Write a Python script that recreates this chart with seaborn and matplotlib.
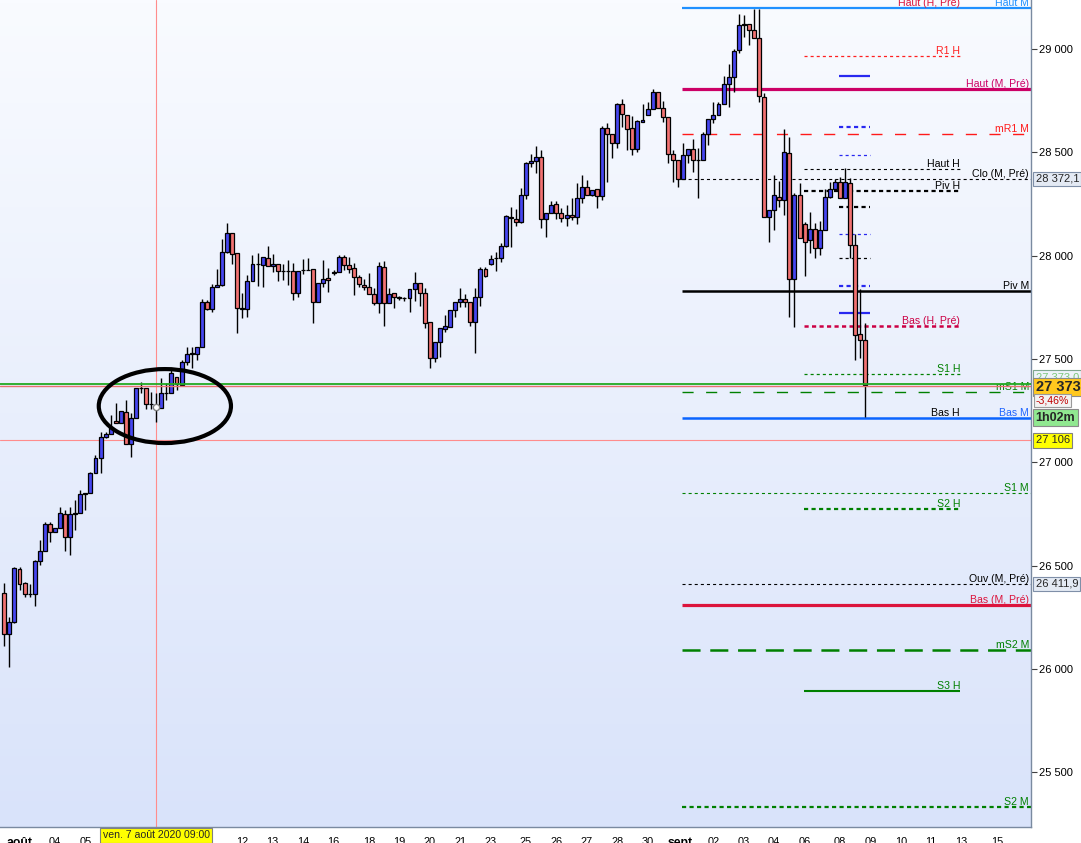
import numpy as np
import matplotlib
matplotlib.use("Agg")
import matplotlib.pyplot as plt
import matplotlib.transforms as mtransforms
from matplotlib.patches import Ellipse
from matplotlib.colors import LinearSegmentedColormap
import seaborn as sns

# ---------------- data (4h candles, Dow Jones CFD, Aug-Sep 2020) ----------------
opens = [26366, 26167, 26229, 26482, 26414, 26361, 26361, 26522, 26572, 26700,
         26661, 26684, 26748, 26637, 26750, 26753, 26845, 26850, 26947, 27019,
         27121, 27135, 27200, 27189, 27245, 27087, 27213, 27358, 27358, 27280,
         27268, 27264, 27334, 27334, 27411, 27374, 27483, 27522, 27522, 27559,
         27774, 27740, 27850, 27858, 28019, 28108, 28011, 27745, 27740, 27879,
         27958, 27954, 27987, 27950, 27958, 27925, 27925, 27927, 27817, 27930,
         27930, 27934, 27774, 27866, 27893, 27917, 27919, 27992, 27953, 27938,
         27898, 27856, 27850, 27812, 27769, 27945, 27769, 27817, 27798, 27796,
         27793, 27837, 27866, 27817, 27677, 27503, 27583, 27643, 27656, 27737,
         27774, 27788, 27774, 27680, 27798, 27934, 27958, 27987, 27987, 28047,
         28189, 28176, 28161, 28294, 28447, 28458, 28476, 28176, 28205, 28248,
         28205, 28184, 28195, 28189, 28277, 28334, 28294, 28321, 28289, 28616,
         28589, 28543, 28734, 28681, 28616, 28515, 28648, 28681, 28708, 28790,
         28713, 28669, 28492, 28463, 28369, 28487, 28515, 28461, 28461, 28587,
         28660, 28681, 28732, 28829, 28866, 28995, 29116, 29119, 29092, 29052,
         28769, 28185, 28221, 28285, 28269, 28495, 27885, 28293, 28153, 28076,
         28127, 28035, 28124, 28285, 28321, 28355, 28277, 28350, 28051, 27619,
         27592]
highs = [26414, 26253, 26492, 26492, 26422, 26411, 26527, 26624, 26710, 26710,
         26684, 26785, 26769, 26785, 26818, 26866, 26850, 26955, 27035, 27148,
         27148, 27229, 27285, 27250, 27301, 27237, 27358, 27390, 27358, 27342,
         27334, 27406, 27382, 27447, 27411, 27495, 27559, 27559, 27559, 27788,
         27785, 27861, 27933, 28079, 28156, 28108, 28011, 27821, 27906, 28003,
         28011, 27992, 28046, 28008, 27958, 27959, 27979, 27962, 27927, 27982,
         27987, 27934, 27866, 27979, 27938, 27930, 28003, 28003, 27992, 27962,
         27906, 27885, 27914, 27842, 27971, 27974, 27842, 27817, 27804, 27801,
         27837, 27922, 27866, 27842, 27677, 27580, 27648, 27712, 27737, 27774,
         27842, 27814, 27774, 27842, 27947, 27944, 28003, 28019, 28060, 28197,
         28237, 28224, 28326, 28455, 28492, 28531, 28511, 28205, 28266, 28264,
         28229, 28245, 28277, 28350, 28390, 28366, 28318, 28321, 28627, 28640,
         28589, 28737, 28758, 28681, 28676, 28656, 28734, 28745, 28805, 28790,
         28750, 28669, 28511, 28463, 28543, 28515, 28563, 28519, 28600, 28660,
         28742, 28742, 28869, 28927, 28998, 29169, 29164, 29119, 29193, 29193,
         28785, 28221, 28390, 28363, 28611, 28576, 28305, 28353, 28164, 28211,
         28160, 28168, 28321, 28358, 28371, 28382, 28422, 28374, 28103, 27837,
         27676]
lows = [26113, 26011, 26221, 26382, 26350, 26350, 26306, 26503, 26572, 26616,
        26661, 26684, 26572, 26551, 26672, 26753, 26769, 26850, 26947, 26950,
        27116, 27135, 27189, 27189, 27087, 27027, 27213, 27334, 27256, 27256,
        27197, 27264, 27301, 27334, 27350, 27374, 27471, 27454, 27495, 27559,
        27737, 27729, 27850, 27853, 28011, 27958, 27624, 27696, 27704, 27879,
        27853, 27846, 27950, 27922, 27879, 27882, 27858, 27785, 27798, 27911,
        27930, 27675, 27774, 27850, 27825, 27906, 27919, 27930, 27914, 27809,
        27846, 27833, 27812, 27761, 27721, 27659, 27769, 27745, 27785, 27782,
        27729, 27782, 27756, 27648, 27458, 27487, 27508, 27632, 27656, 27701,
        27753, 27753, 27659, 27527, 27758, 27898, 27955, 27927, 27971, 28044,
        28040, 28145, 28156, 28273, 28431, 28398, 28135, 28092, 28205, 28176,
        28165, 28145, 28173, 28152, 28256, 28294, 28290, 28229, 28269, 28358,
        28471, 28519, 28624, 28511, 28487, 28503, 28648, 28681, 28708, 28713,
        28648, 28447, 28358, 28334, 28369, 28450, 28406, 28281, 28461, 28535,
        28640, 28681, 28732, 28721, 28793, 28982, 29060, 29019, 29052, 28745,
        28185, 28068, 28124, 28237, 28197, 27705, 27656, 28084, 27901, 28011,
        27987, 28003, 28124, 28277, 28321, 28277, 28277, 27987, 27495, 27503,
        27221]
closes = [26167, 26229, 26487, 26411, 26361, 26361, 26522, 26572, 26700, 26661,
          26684, 26753, 26637, 26748, 26753, 26845, 26850, 26947, 27019, 27121,
          27135, 27172, 27189, 27250, 27087, 27213, 27358, 27358, 27280, 27280,
          27268, 27334, 27334, 27430, 27379, 27484, 27522, 27527, 27559, 27777,
          27740, 27850, 27858, 28019, 28108, 28008, 27745, 27740, 27879, 27958,
          27958, 27992, 27950, 27958, 27925, 27925, 27927, 27817, 27927, 27930,
          27932, 27774, 27866, 27888, 27880, 27919, 27992, 27953, 27934, 27898,
          27861, 27846, 27812, 27769, 27950, 27769, 27812, 27798, 27796, 27793,
          27837, 27866, 27817, 27672, 27503, 27580, 27648, 27659, 27737, 27774,
          27788, 27774, 27680, 27798, 27934, 27903, 27982, 27987, 28047, 28192,
          28181, 28161, 28294, 28447, 28458, 28476, 28176, 28205, 28245, 28205,
          28184, 28197, 28189, 28277, 28334, 28294, 28318, 28289, 28616, 28589,
          28543, 28734, 28685, 28613, 28515, 28652, 28656, 28708, 28790, 28713,
          28669, 28492, 28463, 28369, 28487, 28515, 28463, 28463, 28587, 28660,
          28681, 28732, 28829, 28866, 28992, 29116, 29119, 29092, 29052, 28774,
          28185, 28221, 28293, 28269, 28500, 27885, 28293, 28084, 28068, 28127,
          28035, 28124, 28282, 28321, 28355, 28277, 28355, 28051, 27616, 27592,
          27373]

day_labels = ["août", "04", "05", "12", "13", "14", "16", "18", "19", "20", "21",
              "23", "25", "26", "27", "28", "30", "sept", "02", "03", "04", "06",
              "08", "09", "10", "11", "13", "15"]
day_index = [3, 10, 16, 47, 53, 59, 65, 72, 78, 84, 90, 96, 103, 109, 115, 121,
             127, 133.5, 140, 146, 152, 158, 165, 171, 177, 183, 189, 196]

monthly_names = ["Haut M", "Haut (M, Pré)", "mR1 M", "Clo (M, Pré)", "Piv M",
                 "mS1 M", "Bas M", "S1 M", "Ouv (M, Pré)", "Bas (M, Pré)",
                 "mS2 M", "S2 M"]
monthly_values = [29199, 28806, 28587, 28372.1, 27829, 27339, 27214, 26850,
                  26411.9, 26310, 26092, 25333]
weekly_names = ["Haut (H, Pré)", "R1 H", "Haut H", "Piv H", "Bas (H, Pré)",
                "S1 H", "Bas H", "S2 H", "S3 H"]
weekly_values = [29199, 28965, 28421, 28313, 27660, 27426, 27214, 26774, 25895]
daily_values = [28871, 28623, 28486, 28235, 28103, 27987, 27853, 27722]

last_price = 27373
bid_price = 27378
ask_price = 27368
change_pct = "-3,46%"
countdown = "1h02m"
cross_index = 30
cross_price = 27106
cross_point = 27268
cross_label = "ven. 7 août 2020 09:00"
circle_center = (31.7, 27272)
yticks = [25500, 26000, 26500, 27000, 27500, 28000, 28500, 29000]

# ---------------- styles ----------------
THIN = (0, (2.2, 2.2))
THICK = (0, (3.0, 2.4))
LONG = (0, (8, 9))
LONG2 = (0, (13, 7))
monthly_styles = [
    dict(color="#1E90FF", lw=1.6, ls="-", tc="#1E90FF"),
    dict(color="#CC0066", lw=2.3, ls="-", tc="#CC0066"),
    dict(color="#FF1A1A", lw=1.0, ls=LONG, tc="#FF1A1A"),
    dict(color="black", lw=0.8, ls=THIN, tc="black"),
    dict(color="black", lw=1.8, ls="-", tc="black"),
    dict(color="#008000", lw=1.0, ls=LONG, tc="#008000"),
    dict(color="#0A64FF", lw=1.8, ls="-", tc="#1E64FF"),
    dict(color="#008000", lw=0.8, ls=THIN, tc="#008000"),
    dict(color="black", lw=0.8, ls=THIN, tc="black"),
    dict(color="#DC143C", lw=2.3, ls="-", tc="#DC143C"),
    dict(color="#008000", lw=1.8, ls=LONG2, tc="#008000"),
    dict(color="#008000", lw=1.6, ls=THICK, tc="#008000"),
]
weekly_styles = [
    dict(color=None, tc="#DC143C"),
    dict(color="#FF2020", lw=0.9, ls=THIN, tc="#FF2020"),
    dict(color="black", lw=0.8, ls=THIN, tc="black"),
    dict(color="black", lw=1.6, ls=THICK, tc="black"),
    dict(color="#CC0044", lw=1.8, ls=THICK, tc="#CC0044"),
    dict(color="#008000", lw=0.9, ls=THIN, tc="#008000"),
    dict(color=None, tc="black"),
    dict(color="#008000", lw=1.6, ls=THICK, tc="#008000"),
    dict(color="#008000", lw=1.5, ls="-", tc="#008000"),
]
daily_styles = [
    dict(color="#2828F0", lw=1.6, ls="-"),
    dict(color="#2828F0", lw=1.6, ls=THICK),
    dict(color="#2828F0", lw=0.9, ls=THIN),
    dict(color="black", lw=1.6, ls=THICK),
    dict(color="#2828F0", lw=0.9, ls=THIN),
    dict(color="black", lw=0.9, ls=THIN),
    dict(color="#2828F0", lw=1.6, ls=THICK),
    dict(color="#2828F0", lw=1.6, ls="-"),
]
MONTH_START, MONTH_END = 133.8, 202.7
WEEK_START, WEEK_END = 157.9, 188.7
DAY_START, DAY_END = 164.8, 170.9

sns.set_style("white")
plt.rcParams["font.family"] = ["Liberation Sans", "DejaVu Sans"]
plt.rcParams["lines.scale_dashes"] = False

W, H = 1081, 843
fig = plt.figure(figsize=(W / 100, H / 100), dpi=100)
fig.patch.set_facecolor("white")
ax = fig.add_axes([0, (H - 827) / H, 1031 / W, 827 / H])

# background gradient
grad = np.linspace(0, 1, 256).reshape(-1, 1)
cmap = LinearSegmentedColormap.from_list("bg", ["#F9FBFF", "#D9E3FA"])
ax.imshow(grad, extent=[0, 1, 0, 1], transform=ax.transAxes, cmap=cmap,
          aspect="auto", zorder=0)

# candles
o = np.array(opens, float); hh = np.array(highs, float)
ll = np.array(lows, float); c = np.array(closes, float)
idx = np.arange(len(o))
up = c >= o
ax.vlines(idx, ll, hh, color="black", lw=1.0, zorder=3)
ax.bar(idx[up], (c - o)[up], bottom=o[up], width=0.78, color="#4646F0",
       edgecolor="black", linewidth=0.9, zorder=4)
ax.bar(idx[~up], (o - c)[~up], bottom=c[~up], width=0.78, color="#F27272",
       edgecolor="black", linewidth=0.9, zorder=4)

# level lines
fs_lvl = 7.6
for name, v, st in zip(monthly_names, monthly_values, monthly_styles):
    ax.hlines(v, MONTH_START, MONTH_END, colors=st["color"], linewidth=st["lw"],
              linestyles=[st["ls"]], zorder=2)
    ax.text(202.3, v, name, color=st["tc"], fontsize=fs_lvl, ha="right",
            va="bottom", zorder=5)
for name, v, st in zip(weekly_names, weekly_values, weekly_styles):
    if st["color"] is not None:
        ax.hlines(v, WEEK_START, WEEK_END, colors=st["color"], linewidth=st["lw"],
                  linestyles=[st["ls"]], zorder=2)
    ax.text(WEEK_END, v, name, color=st["tc"], fontsize=fs_lvl, ha="right",
            va="bottom", zorder=5)
for v, st in zip(daily_values, daily_styles):
    ax.hlines(v, DAY_START, DAY_END, colors=st["color"], linewidth=st["lw"],
              linestyles=[st["ls"]], zorder=2)

# price lines and crosshair
ax.axhline(bid_price, color="#22AA22", lw=1.3, zorder=6)
ax.axhline(ask_price, color="#E87070", lw=1.0, zorder=6)
ax.axhline(cross_price, color="#FF8C8C", lw=0.8, zorder=1.5)
ax.axvline(cross_index, color="#FF8C8C", lw=0.8, zorder=1.5)

# annotation ellipse + crosshair point
ax.add_patch(Ellipse(circle_center, width=26.1, height=358, fill=False,
                     edgecolor="black", lw=3.0, zorder=8))
ax.plot([cross_index], [cross_point], marker="o", ms=4.5, mfc="white",
        mec="#808080", zorder=9)

ax.set_xlim(-0.85, 202.7)
ax.set_ylim(25235, 29237)

# axes styling
for s in ["top", "left"]:
    ax.spines[s].set_visible(False)
for s in ["right", "bottom"]:
    ax.spines[s].set_visible(True)
    ax.spines[s].set_color("#7A8AA0")
    ax.spines[s].set_linewidth(1.0)
ax.yaxis.tick_right()
ax.set_yticks(yticks)
ax.set_yticklabels([f"{v:,}".replace(",", " ") for v in yticks])
ax.tick_params(axis="y", direction="out", length=4, width=0.8, pad=2,
               labelsize=8, color="#404040", labelcolor="black")
ax.set_xticks(day_index)
ax.set_xticklabels(day_labels)
ax.tick_params(axis="x", direction="out", length=4, width=0.8, pad=3.5,
               labelsize=7.9, color="#606060", labelcolor="black")
for lab in ax.get_xticklabels():
    if lab.get_text() in ("août", "sept"):
        lab.set_fontweight("bold")
        lab.set_fontsize(8.8)
ax.grid(False)

# right-axis value boxes
ty = mtransforms.blended_transform_factory(ax.transAxes, ax.transData)
xb = 1.0045
ax.text(xb, 28372.1, "28 372,1", transform=ty, fontsize=8, ha="left", va="center",
        bbox=dict(boxstyle="square,pad=0.2", fc="#E4EAF4", ec="#7F8FA8", lw=0.8),
        clip_on=False, zorder=10)
ax.text(xb, 27412, "27 373,0", transform=ty, fontsize=8, ha="left", va="center",
        color="#7CC87C",
        bbox=dict(boxstyle="square,pad=0.2", fc="#EEF3FA", ec="#7FA88F", lw=0.8),
        clip_on=False, zorder=10)
ax.text(xb, 27365, f"{last_price:,}".replace(",", " "), transform=ty,
        fontsize=10.5, fontweight="bold", ha="left", va="center",
        bbox=dict(boxstyle="square,pad=0.15", fc="#FFC81E", ec="#8A8A8A", lw=0.8),
        clip_on=False, zorder=11)
ax.text(xb, 27297, change_pct, transform=ty, fontsize=7.6, color="#C00000",
        ha="left", va="center",
        bbox=dict(boxstyle="square,pad=0.15", fc="#F2F2F2", ec="#9A9A9A", lw=0.8),
        clip_on=False, zorder=11)
ax.text(xb, 27216, countdown, transform=ty, fontsize=9, fontweight="bold",
        ha="left", va="center",
        bbox=dict(boxstyle="square,pad=0.18", fc="#90E890", ec="#8A8A8A", lw=0.8),
        clip_on=False, zorder=11)
ax.text(xb, cross_price, f"{cross_price:,}".replace(",", " "), transform=ty,
        fontsize=8, ha="left", va="center",
        bbox=dict(boxstyle="square,pad=0.2", fc="#FFFF00", ec="#808080", lw=0.8),
        clip_on=False, zorder=11)
ax.text(xb, 26411.9, "26 411,9", transform=ty, fontsize=8, ha="left", va="center",
        bbox=dict(boxstyle="square,pad=0.2", fc="#E4EAF4", ec="#7F8FA8", lw=0.8),
        clip_on=False, zorder=10)

# date tooltip on x axis
tx = mtransforms.blended_transform_factory(ax.transData, ax.transAxes)
ax.text(cross_index, -0.004, cross_label, transform=tx, fontsize=7.6,
        ha="center", va="top",
        bbox=dict(boxstyle="square,pad=0.25", fc="#FFFF00", ec="#808080", lw=0.8),
        clip_on=False, zorder=12)

fig.savefig("out.png", dpi=100, facecolor="white")
